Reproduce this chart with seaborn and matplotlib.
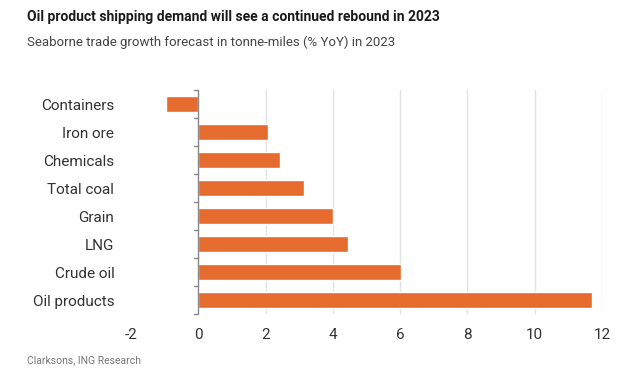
import seaborn as sns
from matplotlib import pyplot as plt
import pandas as pd

categories = ['Containers', 'Iron ore', 'Chemicals', 'Total coal', 'Grain', 'LNG', 'Crude oil', 'Oil products']
growth = [-0.95, 2.08, 2.44, 3.15, 4.0, 4.45, 6.03, 11.7]
x_ticks = [-2, 0, 2, 4, 6, 8, 10, 12]

d = pd.DataFrame({'cat': categories, 'val': growth})

sns.set_style('white')
plt.rcParams['font.family'] = ['Roboto', 'DejaVu Sans']

f = plt.figure(figsize=(6.4, 3.79), dpi=100)
ax = f.add_axes([0.2047, 0.1715, 0.7359, 0.591])

sns.barplot(data=d, x='val', y='cat', color='#E66B2E', saturation=1, width=0.55, ax=ax)

ax.set_xlim(-2, 12)
ax.set_ylim(7.5, -0.5)
ax.set_xticks(x_ticks)
ax.set_xticklabels([str(t) for t in x_ticks], fontsize=11, color='#333333')
ax.tick_params(axis='y', which='major', length=0, pad=12, labelsize=11, labelcolor='#333333')
ax.tick_params(axis='x', length=0, pad=10)
ax.set_xlabel('')
ax.set_ylabel('')

for t in x_ticks[2:]:
    ax.axvline(t, color='#e3e3e3', lw=1, zorder=0)
ax.axvline(0, color='#888888', lw=1, zorder=3)
for s in ax.spines.values():
    s.set_visible(False)
ax.set_axisbelow(True)

# small ticks between categories sit on the zero line
for y in [i - 0.5 for i in range(len(categories) + 1)]:
    ax.plot([-0.12, 0], [y, y], color='#888888', lw=1, clip_on=False, zorder=3)

f.text(0.042, 0.955, 'Oil product shipping demand will see a continued rebound in 2023',
       fontsize=10, fontweight='bold', color='#1a1a1a', va='center')
f.text(0.042, 0.888, 'Seaborne trade growth forecast in tonne-miles (% YoY) in 2023',
       fontsize=9.5, color='#444444', va='center')
f.text(0.042, 0.05, 'Clarksons, ING Research', fontsize=7.5, color='#777777', va='center')

f.savefig('out.png', dpi=100)
